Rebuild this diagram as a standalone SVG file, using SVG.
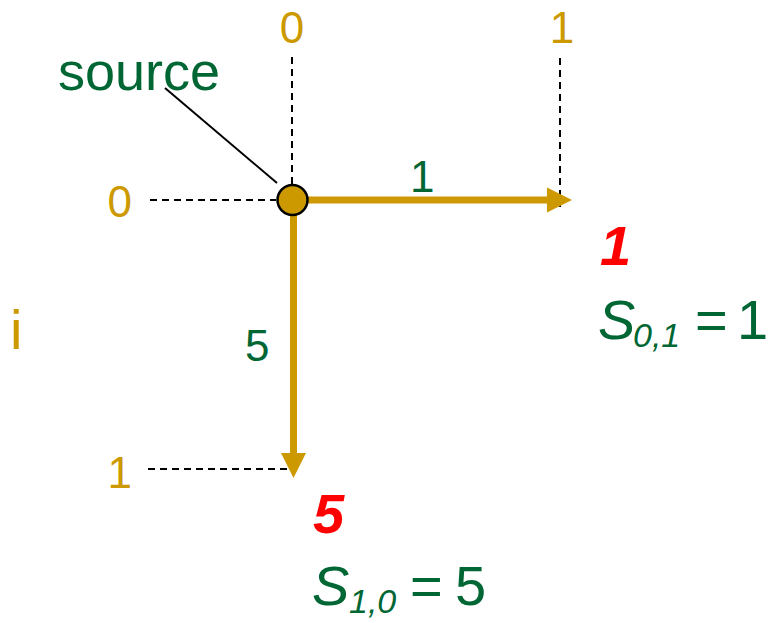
<svg xmlns="http://www.w3.org/2000/svg" width="770" height="623" viewBox="0 0 770 623">
<style>
text{font-family:"Liberation Sans",Arial,sans-serif}
.gold{fill:#CC9900;font-size:44px}
.green{fill:#006633;font-size:44px}
.red{fill:#FF0000;font-size:56px;font-weight:bold;font-style:italic}
.eq{fill:#006633;font-size:56px}
.sub{font-size:34px;font-style:italic}
.dash{stroke:#000;stroke-width:2;stroke-dasharray:7 5;fill:none}
.edge{stroke:#CC9900;stroke-width:7;fill:none}
.head{fill:#CC9900}
</style>
<rect width="770" height="623" fill="#fff"/>
<g id="axes">
<text class="gold" x="292" y="43" text-anchor="middle">0</text>
<text class="gold" x="562" y="43" text-anchor="middle">1</text>
<text class="gold" x="132" y="217" text-anchor="end">0</text>
<text class="gold" x="132" y="488" text-anchor="end">1</text>
<text class="gold" x="10" y="349" style="font-size:56px">i</text>
<line class="dash" x1="292" y1="57" x2="292" y2="186"/>
<line class="dash" x1="150" y1="200" x2="276" y2="200"/>
<line class="dash" x1="560" y1="58" x2="560" y2="207"/>
<line class="dash" x1="148" y1="469" x2="292" y2="469"/>
</g>
<g id="connectors">
<line class="edge" x1="293" y1="200" x2="549" y2="200"/>
<polygon class="head" points="547,187.5 572,200 547,212.5"/>
<text class="green" x="410" y="192">1</text>
<line class="edge" x1="293.5" y1="200" x2="293.5" y2="455"/>
<polygon class="head" points="281,453 306,453 293.5,478"/>
<text class="green" x="245" y="361">5</text>
<line x1="165" y1="88" x2="277" y2="183" stroke="#000" stroke-width="2"/>
</g>
<g id="source">
<text x="58" y="90" style="fill:#006633;font-size:54px">source</text>
<circle cx="292.5" cy="200" r="15" fill="#CC9900" stroke="#000" stroke-width="2.5"/>
</g>
<g id="node01">
<text class="red" x="600" y="265">1</text>
<text class="eq" y="339"><tspan x="598" font-style="italic">S</tspan><tspan class="sub" x="633" dy="8">0,1</tspan><tspan x="695" dy="-8">=</tspan><tspan x="737">1</tspan></text>
</g>
<g id="node10">
<text class="red" x="313" y="533">5</text>
<text class="eq" y="605"><tspan x="312" font-style="italic">S</tspan><tspan class="sub" x="349" dy="8">1,0</tspan><tspan x="410" dy="-8">=</tspan><tspan x="455">5</tspan></text>
</g>
</svg>
